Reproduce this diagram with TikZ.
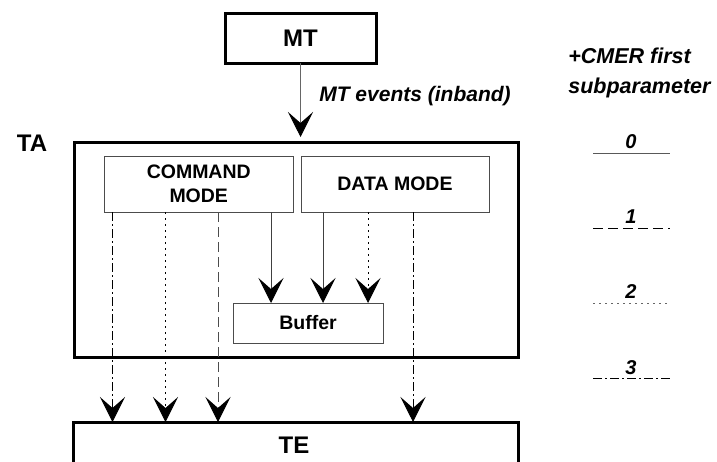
\documentclass[tikz,border=0pt]{standalone}
\usepackage{fontspec}
\setmainfont{Liberation Sans}
\usetikzlibrary{arrows.meta,calc}
\begin{document}
\begin{tikzpicture}[x=1pt,y=-1pt,
  every node/.style={outer sep=0pt},
  bigbox/.style={draw=black, line width=3pt, inner sep=0pt},
  smallbox/.style={draw=black!70, line width=1pt, fill=white, inner sep=0pt},
  inner/.style={font=\fontsize{19.5}{24}\selectfont\bfseries},
  title/.style={font=\fontsize{24}{28}\selectfont\bfseries},
  ital/.style={font=\fontsize{21}{30}\selectfont\bfseries\itshape},
  digit/.style={font=\fontsize{20}{22}\selectfont\bfseries\itshape, inner sep=0pt},
  arr/.style={-{Stealth[length=25pt,width=25pt,inset=11pt,black]}},
  sdash/.style={dash pattern=on 10pt off 5pt},
  sdot/.style={dash pattern=on 2pt off 4pt},
  sdashdot/.style={dash pattern=on 9pt off 3pt on 2pt off 3pt},
  vline/.style={line width=1pt, draw=black},
  legline/.style={line width=1pt}
]
\useasboundingbox (0,0) rectangle (717,461);
\clip (0,0) rectangle (717,461);

% boxes
\node[bigbox, title, minimum width=151pt, minimum height=50pt] (mt) at (300.5,38) {MT};
\node[bigbox, minimum width=444pt, minimum height=215pt] (ta) at (296,249.5) {};
\node[title] (talabel) at (32,143.5) {TA};
\node[smallbox, inner, align=center, minimum width=188.5pt, minimum height=56pt] (cmd) at (198.75,184) {COMMAND\\MODE};
\node[smallbox, inner, minimum width=188pt, minimum height=56pt] (data) at (395,184) {DATA MODE};
\node[smallbox, inner, minimum width=150pt, minimum height=40pt] (buf) at (308,323) {Buffer};
\node[bigbox, minimum width=445pt, minimum height=80pt, anchor=north] (te) at (295.5,422) {};
\node[title] (telabel) at (294,445) {TE};

% MT -> TA
\draw[arr, line width=1pt, black!60, shorten >=5pt] (mt.south) -- (mt.south |- ta.north);
\node[ital, anchor=base west] (mtev) at (316,101) {MT events (inband)};

% coordinates on the mode boxes
\coordinate (c1) at ([xshift=8pt]cmd.south west);
\coordinate (c2) at ([xshift=61pt]cmd.south west);
\coordinate (c3) at ([xshift=113.5pt]cmd.south west);
\coordinate (c4) at ([xshift=166.5pt]cmd.south west);
\coordinate (d1) at ([xshift=22pt]data.south west);
\coordinate (d2) at ([xshift=67pt]data.south west);
\coordinate (d3) at ([xshift=112pt]data.south west);

% to TE
\draw[vline, sdashdot, arr] (c1) -- (c1 |- te.north);
\draw[vline, sdot, arr] (c2) -- (c2 |- te.north);
\draw[vline, black!70, sdash, arr] (c3) -- (c3 |- te.north);
\draw[vline, sdashdot, arr] (d3) -- (d3 |- te.north);

% to Buffer
\draw[vline, black!75, arr] (c4) -- (c4 |- buf.north);
\draw[vline, black!75, arr] (d1) -- (d1 |- buf.north);
\draw[vline, sdot, arr] (d2) -- (d2 |- buf.north);

% legend
\node[ital, font=\fontsize{21.5}{30}\selectfont\bfseries\itshape, align=left, anchor=base west] (legtitle) at (565,93) {+CMER first\\subparameter};
\node[digit, anchor=base] (l0) at (631,148) {0};
\node[digit, anchor=base] (l1) at (631,223) {1};
\node[digit, anchor=base] (l2) at (631,298) {2};
\node[digit, anchor=base] (l3) at (631,374) {3};
\draw[legline, black!65] (593,153) -- (670,153);
\draw[legline, black, sdash] (593,228) -- (670,228);
\draw[legline, black!60, sdot] (593,303) -- (670,303);
\draw[legline, black, sdashdot] (593,378) -- (670,378);
\end{tikzpicture}
\end{document}
